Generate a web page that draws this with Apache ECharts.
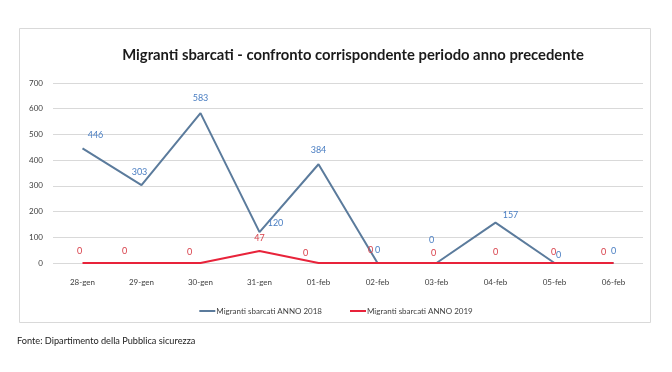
<!DOCTYPE html>
<html>
<head>
<meta charset="utf-8">
<script src="https://cdn.jsdelivr.net/npm/echarts@6/dist/echarts.min.js"></script>
<style>html,body{margin:0;padding:0;background:#fff}#c{width:672px;height:372px}</style>
</head>
<body>
<div id="c"></div>
<script>
var categories = ['28-gen','29-gen','30-gen','31-gen','01-feb','02-feb','03-feb','04-feb','05-feb','06-feb'];
var values2018 = [446, 303, 583, 120, 384, 0, 0, 157, 0, 0];
var values2019 = [0, 0, 0, 47, 0, 0, 0, 0, 0, 0];
var yTicks = [0, 100, 200, 300, 400, 500, 600, 700];
var seriesNames = ['Migranti sbarcati ANNO 2018', 'Migranti sbarcati ANNO 2019'];
var titleText = 'Migranti sbarcati - confronto corrispondente periodo anno precedente';
var sourceText = 'Fonte: Dipartimento della Pubblica sicurezza';

var FONT = 'Lato, "Noto Sans", sans-serif';
var blueOff = [[13,-1],[-2,0],[0,-2],[16,3],[0,-2],[0,0],[-5,-10],[15,5],[4,5],[0,1]];
var redOff = [[-3,1],[-17,1],[-11,2],[0,0],[-13,3],[-7,0],[-3,3],[0,2],[-1,2],[-10,2]];

function build(vals, offs) {
  return vals.map(function (v, i) {
    return { value: v, label: { offset: offs[i] } };
  });
}

var chart = echarts.init(document.getElementById('c'), null, { renderer: 'canvas' });
chart.setOption({
  animation: false,
  backgroundColor: '#fff',
  graphic: [{
    type: 'rect', left: 19, top: 28, z: -1,
    shape: { width: 631, height: 294 },
    style: { fill: '#fff', stroke: '#d9d9d9', lineWidth: 1 }
  }],
  title: [{
    text: titleText, left: 353, top: 48, textAlign: 'center', padding: 0,
    textStyle: { fontFamily: FONT, fontSize: 14.8, fontWeight: 'bold', color: '#1a1a1a' }
  }, {
    text: sourceText, left: 17, top: 337, padding: 0,
    textStyle: { fontFamily: FONT, fontSize: 9.2, fontWeight: 'normal', color: '#222' }
  }],
  legend: {
    top: 302, left: 'center', itemGap: 28, itemWidth: 16, itemHeight: 2, icon: 'rect',
    textStyle: { fontFamily: FONT, fontSize: 8, color: '#404040', padding: [0,0,0,-4] },
    data: seriesNames
  },
  grid: { left: 53, right: 29, top: 83, bottom: 109 },
  xAxis: {
    type: 'category', data: categories, boundaryGap: true,
    axisLine: { show: false }, axisTick: { show: false },
    axisLabel: { fontFamily: FONT, fontSize: 8, color: '#404040', margin: 15 }
  },
  yAxis: {
    type: 'value', min: yTicks[0], max: yTicks[yTicks.length - 1], interval: 100,
    axisLine: { show: false }, axisTick: { show: false },
    splitLine: { lineStyle: { color: '#d9d9d9', width: 1 } },
    axisLabel: { fontFamily: FONT, fontSize: 8, color: '#404040', margin: 10 }
  },
  series: [{
    name: seriesNames[0], type: 'line', data: build(values2018, blueOff),
    symbol: 'circle', symbolSize: 0, showSymbol: true,
    lineStyle: { color: '#5b7b9c', width: 2 }, itemStyle: { color: '#5b7b9c' },
    label: { show: true, position: 'top', distance: 8, fontFamily: FONT, fontSize: 9, color: '#4a7ec2' },
    z: 2
  }, {
    name: seriesNames[1], type: 'line', data: build(values2019, redOff),
    symbol: 'circle', symbolSize: 0, showSymbol: true,
    lineStyle: { color: '#e8233a', width: 2 }, itemStyle: { color: '#e8233a' },
    label: { show: true, position: 'top', distance: 8, fontFamily: FONT, fontSize: 9, color: '#d8404a' },
    z: 3
  }]
});
</script>
</body>
</html>
